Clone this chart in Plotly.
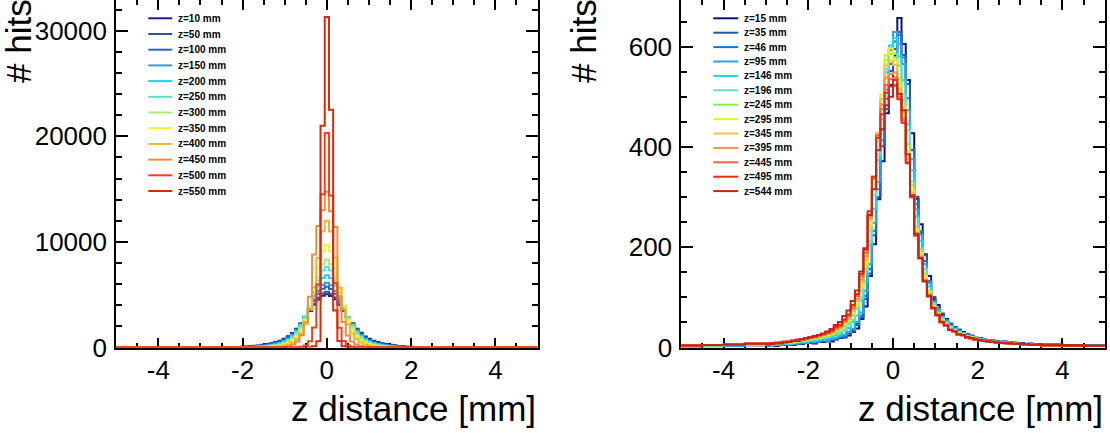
import numpy as np
import plotly.graph_objects as go

# ---------------- LEFT PANEL DATA ----------------
L_LABELS = ["z=10 mm", "z=50 mm", "z=100 mm", "z=150 mm", "z=200 mm", "z=250 mm",
            "z=300 mm", "z=350 mm", "z=400 mm", "z=450 mm", "z=500 mm", "z=550 mm"]
L_COLORS = ['#1b1b8f', '#2f4fa8', '#2466c4', '#2f9bdc', '#19d5f5', '#4de8c8',
            '#a8ec7a', '#eef23a', '#f0b431', '#f58a3c', '#fb3f14', '#d42a10']
# bin centres -2.5 ... 2.5 (width 0.1); zero outside
L_Z10 = [4, 9, 16, 26, 40, 60, 85, 115, 155, 200, 255, 325, 410, 515, 650, 820, 1060, 1380, 1780, 2280, 2850, 3450, 4050, 4550, 4900,
         5050,
         4880, 4560, 4040, 3460, 2840, 2290, 1770, 1390, 1050, 830, 645, 520, 405, 330, 250, 205, 150, 118, 82, 62, 38, 27, 15, 9, 5]
L_Z50 = [3, 6, 11, 19, 30, 46, 66, 92, 125, 165, 215, 280, 360, 455, 580, 750, 990, 1310, 1730, 2250, 2850, 3500, 4150, 4720, 5120,
         5270,
         5100, 4730, 4140, 3510, 2840, 2260, 1720, 1320, 980, 760, 575, 460, 355, 285, 210, 168, 122, 94, 64, 47, 29, 20, 10, 6, 3]
L_Z100 = [2, 4, 7, 13, 22, 34, 50, 72, 100, 135, 180, 238, 310, 400, 520, 690, 920, 1250, 1680, 2230, 2900, 3650, 4400, 5080, 5570,
          5750,
          5550, 5090, 4390, 3660, 2890, 2240, 1670, 1260, 910, 695, 515, 405, 305, 240, 178, 137, 98, 73, 49, 35, 21, 14, 7, 4, 2]
L_Z150 = [1, 3, 5, 9, 16, 25, 38, 56, 80, 110, 150, 200, 265, 350, 460, 620, 850, 1170, 1600, 2180, 2900, 3720, 4580, 5350, 5920,
          6120,
          5900, 5360, 4570, 3730, 2890, 2190, 1590, 1180, 845, 625, 455, 352, 262, 202, 148, 112, 78, 57, 37, 26, 15, 9, 5, 3, 1]
L_Z200 = [1, 2, 3, 6, 11, 18, 28, 41, 60, 85, 118, 162, 220, 295, 400, 550, 770, 1090, 1530, 2140, 2920, 3850, 4880, 5850, 6580,
          6850,
          6560, 5860, 4870, 3860, 2910, 2150, 1520, 1095, 765, 555, 395, 298, 218, 164, 116, 86, 59, 42, 27, 18, 10, 6, 3, 2, 1]
L_Z250 = [0, 1, 2, 4, 7, 12, 20, 30, 45, 65, 92, 128, 178, 245, 340, 480, 690, 1000, 1440, 2060, 2900, 3950, 5150, 6350, 7300,
          7640,
          7280, 6360, 5140, 3960, 2890, 2070, 1430, 1005, 685, 485, 336, 248, 175, 130, 90, 66, 44, 31, 19, 12, 7, 4, 2, 1, 0]
L_Z300 = [0, 0, 1, 2, 4, 7, 12, 20, 30, 45, 66, 95, 135, 190, 270, 390, 570, 840, 1250, 1850, 2700, 3850, 5250, 6700, 7900,
          8340,
          7880, 6710, 5240, 3860, 2690, 1860, 1240, 845, 565, 392, 268, 192, 133, 96, 65, 46, 29, 20, 12, 7, 4, 2, 1, 0, 0]
L_Z350 = [0, 0, 0, 1, 2, 3, 6, 10, 16, 26, 40, 60, 90, 135, 200, 300, 460, 710, 1100, 1700, 2600, 3900, 5600, 7500, 9100,
          9700,
          9080, 7510, 5590, 3910, 2590, 1710, 1095, 715, 455, 302, 198, 136, 89, 61, 39, 26, 15, 10, 6, 3, 2, 1, 0, 0, 0]
L_Z400 = [0, 0, 0, 0, 0, 0, 1, 3, 5, 9, 16, 27, 44, 70, 110, 180, 290, 480, 800, 1320, 2200, 3600, 5700, 8500, 11000,
          12000,
          10980, 8510, 5690, 3610, 2190, 1325, 795, 482, 288, 181, 109, 71, 43, 27, 16, 9, 5, 3, 1, 0, 0, 0, 0, 0, 0]
L_Z450 = [0, 0, 0, 0, 0, 0, 0, 0, 0, 1, 2, 4, 9, 18, 36, 70, 140, 280, 560, 1150, 2400, 4800, 8800, 11500, 13000,
          14750,
          12900, 11400, 4750, 2420, 1140, 565, 278, 142, 69, 37, 17, 9, 4, 2, 1, 0, 0, 0, 0, 0, 0, 0, 0, 0, 0]
L_Z500 = [0, 0, 0, 0, 0, 0, 0, 0, 0, 0, 0, 0, 0, 0, 0, 1, 3, 9, 25, 70, 200, 600, 1900, 6000, 14500,
          20300,
          14400, 6100, 1880, 610, 195, 72, 24, 9, 3, 1, 0, 0, 0, 0, 0, 0, 0, 0, 0, 0, 0, 0, 0, 0, 0]
L_Z550 = [0, 0, 0, 0, 0, 0, 0, 0, 0, 0, 0, 0, 0, 0, 0, 0, 0, 0, 0, 1, 5, 25, 120, 600, 21000,
          31300,
          22500, 3500, 610, 118, 26, 5, 1, 0, 0, 0, 0, 0, 0, 0, 0, 0, 0, 0, 0, 0, 0, 0, 0, 0, 0]
L_SERIES = [L_Z10, L_Z50, L_Z100, L_Z150, L_Z200, L_Z250, L_Z300, L_Z350, L_Z400, L_Z450, L_Z500, L_Z550]

# ---------------- RIGHT PANEL DATA ----------------
R_LABELS = ["z=15 mm", "z=35 mm", "z=46 mm", "z=95 mm", "z=146 mm", "z=196 mm", "z=245 mm",
            "z=295 mm", "z=345 mm", "z=395 mm", "z=445 mm", "z=495 mm", "z=544 mm"]
R_COLORS = ['#10107f', '#2c52b0', '#1f72d4', '#2fa2e0', '#12d6f8', '#5fe2cc', '#86ee4e',
            '#e8f014', '#efc43c', '#f79040', '#fb6244', '#ef2a12', '#c0261a']
# bins: [-5,-4.5],[-4.5,-4],[-4,-3.5],[-3.5,-3], 0.1-wide bins from -3.0 to 3.5, [3.5,4],[4,4.5],[4.5,5]
R_Z15 = [2, 3, 3, 5,
         4, 5, 3, 6, 5, 7, 5, 8, 7, 9,
         10, 8, 12, 11, 14, 12, 16, 19, 20, 24,
         31, 38, 57, 82, 143, 206, 296, 372, 468, 524,
         583, 658, 606, 534, 428, 297, 246, 186, 143, 97,
         85, 66, 57, 44, 41, 32, 31, 25, 23, 19,
         18, 16, 15, 14, 12, 11, 12, 9, 10, 8,
         9, 7, 8, 6, 7,
         6, 5, 4]
R_Z35 = [3, 2, 4, 5,
         5, 4, 6, 5, 7, 6, 7, 9, 8, 10,
         9, 11, 12, 13, 12, 15, 17, 20, 21, 28,
         32, 45, 60, 97, 148, 224, 300, 402, 476, 552,
         596, 630, 584, 526, 394, 301, 229, 184, 131, 101,
         78, 68, 54, 48, 37, 36, 28, 27, 24, 18,
         19, 15, 15, 13, 13, 11, 10, 10, 9, 8,
         8, 7, 7, 6, 6,
         5, 5, 4]
R_Z46 = [2, 3, 4, 4,
         4, 6, 5, 6, 7, 6, 8, 7, 9, 10,
         11, 10, 12, 14, 13, 16, 18, 21, 23, 29,
         34, 47, 64, 103, 157, 233, 316, 414, 497, 566,
         611, 624, 579, 498, 395, 286, 232, 173, 133, 94,
         79, 63, 55, 44, 40, 33, 29, 26, 22, 20,
         17, 16, 14, 14, 12, 12, 10, 9, 9, 8,
         8, 7, 6, 7, 6,
         6, 4, 4]
R_Z95 = [3, 3, 4, 5,
         5, 5, 6, 7, 6, 8, 7, 9, 10, 9,
         12, 11, 13, 15, 14, 17, 19, 23, 25, 31,
         37, 51, 70, 113, 167, 249, 331, 436, 515, 594,
         630, 605, 566, 474, 376, 276, 224, 167, 129, 91,
         77, 61, 53, 43, 38, 32, 29, 24, 22, 18,
         17, 15, 14, 13, 12, 11, 10, 9, 9, 8,
         7, 7, 6, 6, 5,
         5, 4, 4]
R_Z146 = [3, 4, 4, 5,
          6, 5, 7, 6, 8, 7, 9, 10, 11, 12,
          13, 14, 15, 17, 18, 21, 24, 28, 34, 39,
          51, 64, 94, 132, 204, 277, 374, 456, 549, 603,
          618, 581, 534, 446, 354, 262, 213, 157, 122, 88,
          73, 59, 51, 41, 37, 30, 28, 23, 21, 18,
          16, 15, 13, 13, 11, 11, 10, 9, 8, 8,
          7, 7, 6, 6, 5,
          5, 4, 3]
R_Z196 = [3, 4, 5, 5,
          6, 7, 6, 8, 8, 9, 10, 11, 12, 13,
          15, 16, 17, 19, 21, 24, 27, 32, 36, 46,
          55, 76, 100, 151, 212, 304, 386, 484, 556, 598,
          586, 563, 506, 434, 331, 258, 197, 157, 114, 89,
          69, 59, 48, 42, 34, 31, 26, 23, 21, 17,
          16, 14, 13, 12, 11, 10, 10, 9, 8, 7,
          7, 6, 6, 5, 5,
          5, 4, 3]
R_Z245 = [4, 4, 5, 6,
          7, 7, 8, 8, 9, 10, 11, 12, 13, 14,
          16, 17, 19, 21, 23, 26, 31, 34, 42, 49,
          63, 80, 114, 157, 233, 316, 414, 496, 574, 586,
          579, 537, 494, 406, 324, 242, 195, 148, 114, 84,
          69, 55, 48, 39, 35, 29, 27, 22, 20, 17,
          15, 14, 13, 12, 11, 10, 9, 9, 8, 7,
          7, 6, 6, 5, 5,
          4, 4, 3]
R_Z295 = [4, 5, 5, 6,
          7, 8, 8, 9, 10, 10, 12, 13, 14, 15,
          17, 18, 20, 22, 25, 28, 33, 36, 45, 53,
          67, 86, 122, 167, 244, 326, 424, 506, 584, 597,
          573, 526, 479, 391, 314, 235, 189, 143, 111, 83,
          68, 54, 47, 38, 35, 28, 26, 21, 20, 16,
          15, 14, 12, 12, 11, 10, 9, 8, 8, 7,
          7, 6, 6, 5, 5,
          4, 4, 3]
R_Z345 = [4, 5, 6, 6,
          7, 8, 9, 9, 10, 11, 12, 14, 15, 16,
          18, 19, 21, 24, 27, 30, 35, 39, 49, 57,
          73, 93, 130, 175, 254, 336, 429, 496, 563, 571,
          564, 516, 469, 381, 309, 229, 183, 138, 108, 81,
          67, 53, 46, 37, 34, 27, 26, 21, 19, 17,
          15, 13, 12, 11, 11, 10, 9, 8, 8, 7,
          7, 6, 6, 5, 5,
          4, 4, 3]
R_Z395 = [4, 5, 6, 7,
          8, 8, 9, 10, 11, 12, 13, 14, 16, 17,
          19, 20, 22, 25, 28, 31, 37, 41, 51, 60,
          77, 97, 136, 182, 259, 336, 424, 486, 539, 546,
          549, 506, 459, 376, 304, 227, 181, 135, 106, 80,
          66, 52, 45, 37, 33, 27, 25, 20, 19, 16,
          14, 13, 12, 11, 10, 10, 9, 8, 7, 7,
          6, 6, 6, 5, 5,
          4, 4, 3]
R_Z445 = [4, 5, 6, 7,
          8, 9, 9, 10, 11, 12, 14, 15, 16, 18,
          20, 21, 24, 26, 29, 33, 39, 43, 53, 63,
          81, 103, 142, 189, 266, 341, 424, 476, 524, 536,
          539, 501, 454, 371, 302, 225, 179, 134, 105, 79,
          65, 51, 45, 36, 33, 27, 25, 20, 18, 16,
          14, 13, 12, 11, 10, 9, 9, 8, 7, 7,
          6, 6, 5, 5, 5,
          4, 3, 3]
R_Z495 = [4, 5, 6, 8,
          8, 9, 10, 10, 12, 12, 14, 16, 17, 19,
          21, 22, 25, 27, 30, 34, 41, 45, 56, 66,
          85, 107, 147, 195, 272, 341, 419, 466, 509, 521,
          534, 496, 449, 368, 300, 223, 178, 133, 103, 78,
          64, 50, 44, 35, 32, 26, 24, 21, 18, 16,
          14, 13, 12, 11, 10, 9, 8, 8, 7, 7,
          6, 6, 5, 5, 5,
          4, 3, 3]
R_Z544 = [4, 5, 6, 8,
          6, 7, 8, 8, 10, 11, 13, 13, 16, 18,
          20, 23, 25, 28, 32, 37, 45, 51, 63, 74,
          93, 114, 152, 198, 264, 316, 394, 436, 484, 501,
          523, 507, 474, 386, 304, 227, 178, 132, 102, 79,
          65, 51, 44, 35, 32, 26, 25, 20, 19, 16,
          15, 14, 12, 12, 10, 10, 9, 9, 8, 8,
          7, 7, 6, 6, 6,
          5, 5, 4]
R_SERIES = [R_Z15, R_Z35, R_Z46, R_Z95, R_Z146, R_Z196, R_Z245,
            R_Z295, R_Z345, R_Z395, R_Z445, R_Z495, R_Z544]

X_TICKS = [-4, -2, 0, 2, 4]
X_TICKTEXT = ["-4", "-2", "0", "2", "4"]

# ---------------- BIN GRIDS ----------------
L_EDGES = [-5.0] + list(np.round(np.arange(-2.55, 2.5501, 0.1), 2)) + [5.0]
R_EDGES = [-5.0, -4.5, -4.0, -3.5] + list(np.round(np.arange(-3.0, 3.5001, 0.1), 2)) + [4.0, 4.5, 5.0]

W, H = 1110, 433
fig = go.Figure()


def add_hist(edges, vals, color, xa, ya):
    y = list(vals) + [vals[-1]]
    fig.add_trace(go.Scatter(x=edges, y=y, mode='lines', line=dict(color=color, width=2, shape='hv'),
                             xaxis=xa, yaxis=ya, showlegend=False, hoverinfo='skip'))


for vals, col in zip(L_SERIES, L_COLORS):
    add_hist(L_EDGES, [0] + vals + [0], col, 'x', 'y')
for vals, col in zip(R_SERIES, R_COLORS):
    add_hist(R_EDGES, vals, col, 'x2', 'y2')

FONT = 'Liberation Sans, Arial, sans-serif'
common_x = dict(range=[-5, 5], tickmode='array', tickvals=X_TICKS, ticktext=X_TICKTEXT,
                ticks='inside', ticklen=10, tickwidth=2, automargin=False,
                tickcolor='black', showline=True, linecolor='black', linewidth=2, mirror='ticks',
                showgrid=False, zeroline=False, layer='below traces',
                tickfont=dict(family=FONT, size=26, color='black'), ticklabelstandoff=-2,
                minor=dict(tickmode='linear', tick0=0, dtick=0.5, ticks='inside', ticklen=5, tickwidth=2,
                           tickcolor='black', showgrid=False))
common_y = dict(ticks='inside', ticklen=12, tickwidth=2, tickcolor='black', showline=True, linecolor='black',
                linewidth=2, mirror='ticks', showgrid=False, zeroline=False, layer='below traces',
                automargin=False, tickformat='d',
                tickfont=dict(family=FONT, size=26, color='black'), ticklabelstandoff=2)

YDOM = [(H - 347.5) / H, 1.0]
fig.update_layout(
    width=W, height=H, autosize=False, margin=dict(l=0, r=0, t=0, b=0, pad=0, autoexpand=False),
    paper_bgcolor='white', plot_bgcolor='white', showlegend=False,
    xaxis=dict(domain=[116.2 / W, 537.5 / W], anchor='y', **common_x),
    yaxis=dict(domain=YDOM, anchor='x', range=[0, 32900], tickmode='linear', tick0=0, dtick=10000,
               minor=dict(tickmode='linear', tick0=0, dtick=2000, ticks='inside', ticklen=6, tickwidth=2,
                          tickcolor='black', showgrid=False), **common_y),
    xaxis2=dict(domain=[681.3 / W, 1104.8 / W], anchor='y2', **common_x),
    yaxis2=dict(domain=YDOM, anchor='x2', range=[0, 694], tickmode='linear', tick0=0, dtick=200,
                minor=dict(tickmode='linear', tick0=0, dtick=50, ticks='inside', ticklen=6, tickwidth=2,
                           tickcolor='black', showgrid=False), **common_y),
)

annotations = []
shapes = []
# axis titles
for xr in [537.5, 1104.8]:
    annotations.append(dict(text='z distance [mm]', x=xr / W, y=1 - 408 / H, xref='paper', yref='paper',
                            xanchor='right', yanchor='middle', showarrow=False,
                            font=dict(family=FONT, size=35, color='black')))
for xc in [19.0, 584.0]:
    annotations.append(dict(text='# hits', x=xc / W, y=1 + 3 / H, xref='paper', yref='paper',
                            xanchor='center', yanchor='top', textangle=-90, showarrow=False,
                            font=dict(family=FONT, size=35, color='black')))


# legends
def add_legend(labels, colors, x0, x1, xt, y0, dy):
    for i, (lab, col) in enumerate(zip(labels, colors)):
        yy = y0 + i * dy
        shapes.append(dict(type='line', xref='paper', yref='paper', x0=x0 / W, x1=x1 / W,
                           y0=1 - yy / H, y1=1 - yy / H, line=dict(color=col, width=2)))
        annotations.append(dict(text='<b>' + lab + '</b>', x=xt / W, y=1 - yy / H, xref='paper', yref='paper',
                                xanchor='left', yanchor='middle', showarrow=False,
                                font=dict(family=FONT, size=10, color='black')))


add_legend(L_LABELS, L_COLORS, 148.3, 172.3, 175.5, 18.3, 15.7)
add_legend(R_LABELS, R_COLORS, 713.3, 738.3, 741.5, 18.3, 14.4)

fig.update_layout(annotations=annotations, shapes=shapes)
fig.write_html("out.html")
